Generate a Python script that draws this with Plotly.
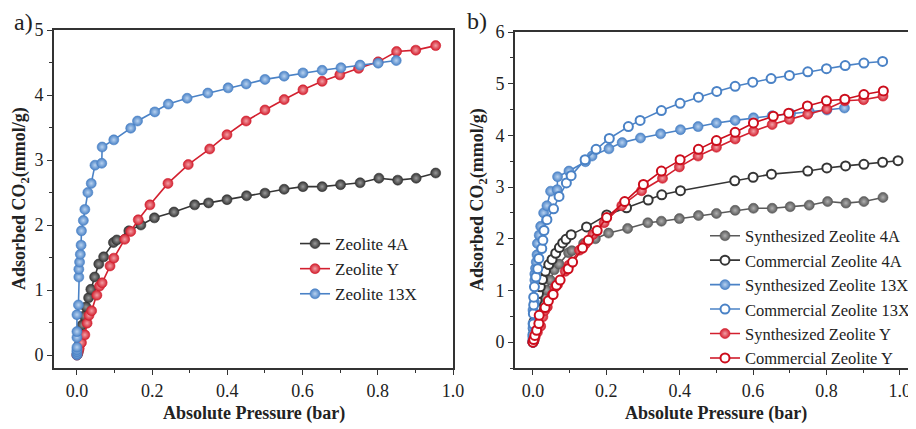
import plotly.graph_objects as go

# The page body adds an 8px offset; the figure is sized/positioned to compensate.
OFF = 8
W, H = 916 - OFF, 429 - OFF

# ---------------- data ----------------
syn_4a_x = [0.0, 0.002, 0.004, 0.006, 0.010, 0.014, 0.019, 0.024, 0.031, 0.037, 0.047, 0.058, 0.071, 0.097,
            0.106, 0.138, 0.170, 0.206, 0.258, 0.313, 0.350, 0.399, 0.451, 0.500, 0.551, 0.601, 0.652, 0.701,
            0.753, 0.803, 0.853, 0.902, 0.954]
syn_4a_y = [0.0, 0.02, 0.06, 0.16, 0.29, 0.46, 0.60, 0.74, 0.88, 1.01, 1.20, 1.40, 1.51, 1.73,
            1.77, 1.91, 2.00, 2.11, 2.20, 2.31, 2.34, 2.39, 2.45, 2.49, 2.55, 2.59, 2.59, 2.62,
            2.65, 2.72, 2.69, 2.72, 2.80]

syn_y_x = [0.0, 0.003, 0.006, 0.012, 0.021, 0.027, 0.032, 0.039, 0.053, 0.060, 0.067, 0.088, 0.098, 0.127,
           0.143, 0.163, 0.194, 0.242, 0.296, 0.353, 0.399, 0.450, 0.500, 0.551, 0.601, 0.652, 0.699,
           0.749, 0.801, 0.850, 0.901, 0.954]
syn_y_y = [0.0, 0.04, 0.10, 0.19, 0.31, 0.49, 0.61, 0.68, 0.92, 1.06, 1.11, 1.37, 1.49, 1.78,
           1.90, 2.08, 2.31, 2.64, 2.93, 3.17, 3.39, 3.60, 3.77, 3.93, 4.08, 4.21, 4.31,
           4.41, 4.51, 4.67, 4.69, 4.76]

syn_13x_x = [0.0, 0.0, 0.0, 0.0, 0.0, 0.0, 0.0, 0.0, 0.004, 0.005, 0.005, 0.007, 0.009, 0.011, 0.012,
             0.017, 0.021, 0.029, 0.038, 0.048, 0.066, 0.067, 0.098, 0.143, 0.161, 0.207, 0.243, 0.293,
             0.348, 0.402, 0.450, 0.500, 0.551, 0.601, 0.652, 0.702, 0.753, 0.801, 0.849]
syn_13x_y = [0.0, 0.02, 0.05, 0.08, 0.12, 0.27, 0.36, 0.62, 0.77, 1.20, 1.32, 1.43, 1.55, 1.69, 1.91,
             2.07, 2.24, 2.50, 2.64, 2.92, 2.95, 3.20, 3.31, 3.49, 3.60, 3.74, 3.86, 3.95,
             4.03, 4.11, 4.17, 4.24, 4.29, 4.34, 4.38, 4.42, 4.46, 4.49, 4.53]

com_4a_x = [0.0, 0.001, 0.002, 0.003, 0.006, 0.008, 0.011, 0.015, 0.020, 0.026, 0.034, 0.043, 0.052, 0.062,
            0.072, 0.081, 0.090, 0.104, 0.146, 0.201, 0.255, 0.314, 0.351, 0.402, 0.550, 0.600, 0.650,
            0.749, 0.801, 0.852, 0.902, 0.953, 0.995]
com_4a_y = [0.0, 0.12, 0.25, 0.40, 0.55, 0.68, 0.81, 0.94, 1.07, 1.21, 1.37, 1.50, 1.60, 1.72,
            1.83, 1.92, 1.99, 2.08, 2.23, 2.46, 2.60, 2.75, 2.85, 2.93, 3.12, 3.19, 3.25,
            3.31, 3.37, 3.41, 3.44, 3.48, 3.51]

com_13x_x = [0.0, 0.0, 0.001, 0.001, 0.002, 0.002, 0.004, 0.008, 0.013, 0.016, 0.024, 0.027, 0.030, 0.038,
             0.056, 0.071, 0.091, 0.104, 0.142, 0.172, 0.208, 0.260, 0.292, 0.350, 0.401, 0.451, 0.501,
             0.551, 0.599, 0.649, 0.699, 0.749, 0.800, 0.851, 0.902, 0.953]
com_13x_y = [0.0, 0.15, 0.35, 0.55, 0.72, 0.87, 1.07, 1.26, 1.42, 1.62, 1.81, 1.97, 2.16, 2.37,
             2.58, 2.82, 3.08, 3.22, 3.53, 3.73, 3.94, 4.17, 4.29, 4.48, 4.62, 4.74, 4.85,
             4.95, 5.03, 5.10, 5.16, 5.23, 5.29, 5.35, 5.40, 5.43]

com_y_x = [0.0, 0.002, 0.005, 0.010, 0.016, 0.017, 0.033, 0.042, 0.055, 0.064, 0.074, 0.096, 0.108, 0.135,
           0.151, 0.175, 0.201, 0.250, 0.301, 0.350, 0.401, 0.451, 0.500, 0.551, 0.601, 0.655, 0.697,
           0.748, 0.800, 0.850, 0.902, 0.955]
com_y_y = [0.0, 0.05, 0.13, 0.23, 0.36, 0.52, 0.67, 0.80, 0.92, 1.10, 1.20, 1.42, 1.55, 1.82,
           1.97, 2.16, 2.41, 2.72, 3.05, 3.31, 3.53, 3.73, 3.90, 4.06, 4.24, 4.37, 4.43,
           4.57, 4.67, 4.70, 4.79, 4.86]

x_ticks = [0.0, 0.2, 0.4, 0.6, 0.8, 1.0]
ya_ticks = [0, 1, 2, 3, 4, 5]
yb_ticks = [0, 1, 2, 3, 4, 5, 6]

# ---------------- styles ----------------
BLACK, BLACK2, RED, RED2, BLUE = "#353535", "#5a5a5a", "#d3202f", "#cc0d1c", "#4a82c6"
LIGHT = {BLACK: "#9a9a9a", BLACK2: "#b0b0b0", RED: "#f2a0a6", BLUE: "#b8d2f0"}
FONT = "Liberation Serif, Times New Roman, serif"


def filled(x, y, name, color, xa, ya, legend):
    return go.Scatter(
        x=x, y=y, name=name, mode="lines+markers", xaxis=xa, yaxis=ya, legend=legend,
        line=dict(color=color, width=1.6),
        marker=dict(size=10, color=color, line=dict(width=0.6, color=color),
                    gradient=dict(type="radial", color=LIGHT[color])),
    )


def hollow(x, y, name, color, xa, ya, legend):
    return go.Scatter(
        x=x, y=y, name=name, mode="lines+markers", xaxis=xa, yaxis=ya, legend=legend,
        line=dict(color=color, width=1.6),
        marker=dict(size=9, color="white", line=dict(width=2, color=color)),
    )


fig = go.Figure()
# panel a
fig.add_trace(filled(syn_4a_x, syn_4a_y, "Zeolite 4A", BLACK, "x", "y", "legend"))
fig.add_trace(filled(syn_y_x, syn_y_y, "Zeolite Y", RED, "x", "y", "legend"))
fig.add_trace(filled(syn_13x_x, syn_13x_y, "Zeolite 13X", BLUE, "x", "y", "legend"))
# panel b
fig.add_trace(filled(syn_4a_x, syn_4a_y, "Synthesized Zeolite 4A", BLACK2, "x2", "y2", "legend2"))
fig.add_trace(hollow(com_4a_x, com_4a_y, "Commercial Zeolite 4A", BLACK, "x2", "y2", "legend2"))
fig.add_trace(filled(syn_13x_x, syn_13x_y, "Synthesized Zeolite 13X", BLUE, "x2", "y2", "legend2"))
fig.add_trace(hollow(com_13x_x, com_13x_y, "Commercial Zeolite 13X", BLUE, "x2", "y2", "legend2"))
fig.add_trace(filled(syn_y_x, syn_y_y, "Synthesized Zeolite Y", RED, "x2", "y2", "legend2"))
fig.add_trace(hollow(com_y_x, com_y_y, "Commercial Zeolite Y", RED2, "x2", "y2", "legend2"))

AX = "#333333"
tickfont = dict(family=FONT, size=18, color="#222")


def px_x(p):  # page pixel -> paper fraction
    return (p - OFF) / W


def px_y(p):
    return 1 - (p - OFF) / H


def xaxis(domain, rng, anchor):
    return dict(domain=domain, range=rng, tickvals=x_ticks, ticktext=[f"{v:.1f}" for v in x_ticks],
                anchor=anchor, automargin=False,
                showline=True, linecolor=AX, linewidth=1.8, mirror=True, ticks="outside",
                ticklen=5, tickwidth=1.4, tickcolor=AX, showgrid=False, zeroline=False,
                tickfont=tickfont, minor=dict(dtick=0.1, tick0=0, ticks="outside", ticklen=3,
                                              tickwidth=1.2, tickcolor=AX))


def yaxis(domain, rng, ticks, anchor):
    return dict(domain=domain, range=rng, tickvals=ticks, anchor=anchor, automargin=False,
                showline=True, linecolor=AX, linewidth=1.8, mirror=True, ticks="outside",
                ticklen=5, tickwidth=1.4, tickcolor=AX, showgrid=False, zeroline=False,
                tickfont=tickfont, minor=dict(dtick=0.5, tick0=0, ticks="outside", ticklen=3,
                                              tickwidth=1.2, tickcolor=AX))


fig.update_layout(
    width=W, height=H, margin=dict(l=0, r=0, t=0, b=0, autoexpand=False),
    paper_bgcolor="white", plot_bgcolor="white",
    font=dict(family=FONT, color="#222"),
    showlegend=True,
    xaxis=xaxis([px_x(54), px_x(453)], [-0.061, 1.0], "y"),
    yaxis=yaxis([px_y(368), px_y(30)], [-0.2, 5.0], ya_ticks, "x"),
    xaxis2=xaxis([px_x(515), 1.0], [-0.049, 1.044], "y2"),
    yaxis2=yaxis([px_y(368), px_y(32)], [-0.5, 6.0], yb_ticks, "x2"),
    legend=dict(x=px_x(295), y=px_y(269), xanchor="left", yanchor="middle",
                font=dict(family=FONT, size=17, color="#222"), bgcolor="rgba(0,0,0,0)",
                tracegroupgap=0, itemwidth=30),
    legend2=dict(x=px_x(705), y=px_y(297), xanchor="left", yanchor="middle",
                 font=dict(family=FONT, size=16.5, color="#222"), bgcolor="rgba(0,0,0,0)",
                 tracegroupgap=0, itemwidth=30),
)

ann = []
title_font = dict(family=FONT, size=18, color="#222")
for cx in (253.5, 715.5):
    ann.append(dict(text="<b>Absolute Pressure (bar)</b>", x=px_x(cx), y=px_y(413), xref="paper",
                    yref="paper", showarrow=False, font=title_font, xanchor="center", yanchor="middle"))
for cx, cy in ((21, 199), (479, 200)):
    ann.append(dict(text="<b>Adsorbed CO<sub>2</sub>(mmol/g)</b>", x=px_x(cx), y=px_y(cy), xref="paper",
                    yref="paper", showarrow=False, font=title_font, textangle=-90,
                    xanchor="center", yanchor="middle"))
ann.append(dict(text="a)", x=px_x(23), y=px_y(22), xref="paper", yref="paper", showarrow=False,
                font=dict(family=FONT, size=24, color="#222"), xanchor="center", yanchor="middle"))
ann.append(dict(text="b)", x=px_x(477), y=px_y(21), xref="paper", yref="paper", showarrow=False,
                font=dict(family=FONT, size=24, color="#222"), xanchor="center", yanchor="middle"))
fig.update_layout(annotations=ann)

fig.write_html("out.html")
